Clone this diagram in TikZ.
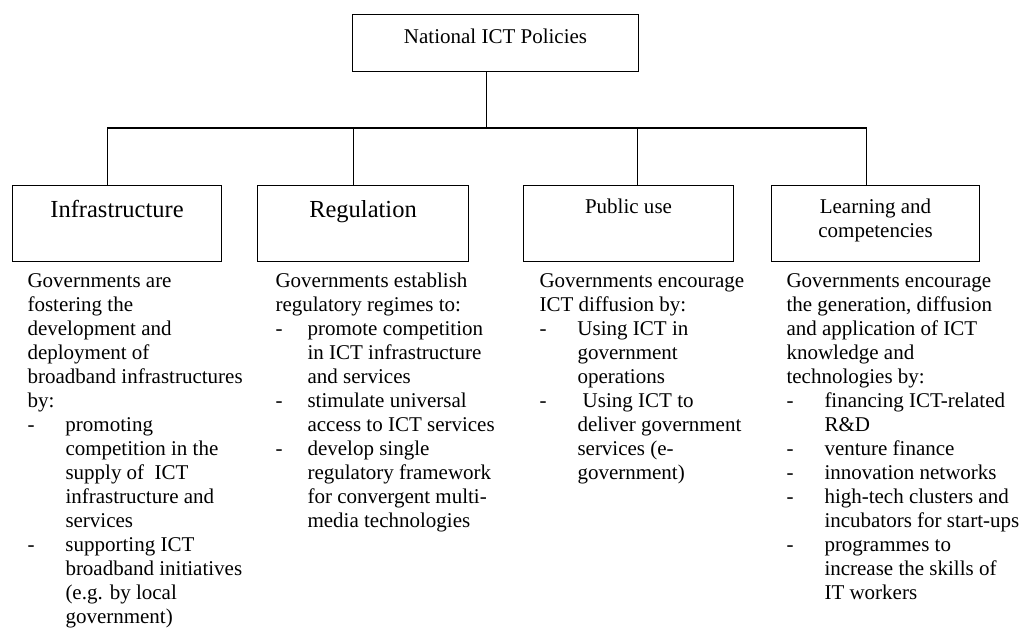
\documentclass[tikz,border=0pt]{standalone}
\usepackage{fontspec}
\setmainfont{Liberation Serif}
% one drawing unit
\newlength\pxu
\setlength\pxu{0.5714pt}
% hanging indent of the dashed list items
\newlength\tabind
\newcommand\dashitem[1]{\makebox[\tabind][l]{-}#1}
\newcommand\contline[1]{\hspace*{\tabind}#1}
\begin{document}
\begin{tikzpicture}[x=\pxu, y=-\pxu, line width=0.6pt,
  box/.style={draw, inner sep=0pt, anchor=north west},
  boxtext/.style={inner sep=0pt, anchor=base},
  desc/.style={inner sep=0pt, anchor=base west, font=\fontsize{12}{13.75}\selectfont},
  normal/.style={font=\fontsize{12}{13.75}\selectfont},
  large/.style={font=\fontsize{14}{16}\selectfont}]
\useasboundingbox (0,0) rectangle (1020,628);

% boxes
\node[box, minimum width=286\pxu, minimum height=57\pxu] (top)   at (352,14)  {};
\node[box, minimum width=209\pxu, minimum height=76\pxu] (infra) at (12,185)  {};
\node[box, minimum width=211\pxu, minimum height=76\pxu] (reg)   at (257,185) {};
\node[box, minimum width=210\pxu, minimum height=76\pxu] (pub)   at (523,185) {};
\node[box, minimum width=208\pxu, minimum height=76\pxu] (learn) at (771,185) {};

% box titles
\node[boxtext, normal] (topT)   at ([yshift=-29\pxu]top.north)   {National ICT Policies};
\node[boxtext, large]  (infraT) at ([yshift=-32\pxu]infra.north) {Infrastructure};
\node[boxtext, large]  (regT)   at ([yshift=-32\pxu]reg.north)   {Regulation};
\node[boxtext, normal] (pubT)   at ([yshift=-28\pxu]pub.north)   {Public use};
\node[boxtext, normal] (learnT) at ([yshift=-28\pxu]learn.north)
  {\begin{tabular}[t]{@{}c@{}}Learning and\\competencies\end{tabular}};

% connectors
\coordinate (bus) at (0,128);
\coordinate (topS)   at ([xshift=-9\pxu]top.south);
\coordinate (infraN) at ([xshift=-9.5\pxu]infra.north);
\coordinate (regN)   at ([xshift=-9.5\pxu]reg.north);
\coordinate (pubN)   at ([xshift=9\pxu]pub.north);
\coordinate (learnN) at ([xshift=-9\pxu]learn.north);
\draw (topS) -- (topS |- bus);
\draw (infraN) -- (infraN |- bus) -- (learnN |- bus) -- (learnN);
\draw (regN |- bus) -- (regN);
\draw (pubN |- bus) -- (pubN);

% descriptions
\setlength\tabind{21.7pt}
\node[desc] (infraD) at (27,287) {\begin{tabular}[t]{@{}l@{}}
Governments are\\
fostering the\\
development and\\
deployment of\\
broadband infrastructures\\
by:\\
\dashitem{promoting}\\
\contline{competition in the}\\
\contline{supply of \ ICT}\\
\contline{infrastructure and}\\
\contline{services}\\
\dashitem{supporting ICT}\\
\contline{broadband initiatives}\\
\contline{(e.g. by local}\\
\contline{government)}
\end{tabular}};

\node[desc] (regD) at (275,287) {\setlength\tabind{18.3pt}\begin{tabular}[t]{@{}l@{}}
Governments establish\\
regulatory regimes to:\\
\dashitem{promote competition}\\
\contline{in ICT infrastructure}\\
\contline{and services}\\
\dashitem{stimulate universal}\\
\contline{access to ICT services}\\
\dashitem{develop single}\\
\contline{regulatory framework}\\
\contline{for convergent multi-}\\
\contline{media technologies}
\end{tabular}};

\node[desc] (pubD) at (539,287) {\begin{tabular}[t]{@{}l@{}}
Governments encourage\\
ICT diffusion by:\\
\dashitem{Using ICT in}\\
\contline{government}\\
\contline{operations}\\
\dashitem{\ Using ICT to}\\
\contline{deliver government}\\
\contline{services (e-}\\
\contline{government)}
\end{tabular}};

\node[desc] (learnD) at (786,287) {\begin{tabular}[t]{@{}l@{}}
Governments encourage\\
the generation, diffusion\\
and application of ICT\\
knowledge and\\
technologies by:\\
\dashitem{financing ICT-related}\\
\contline{R\&D}\\
\dashitem{venture finance}\\
\dashitem{innovation networks}\\
\dashitem{high-tech clusters and}\\
\contline{incubators for start-ups}\\
\dashitem{programmes to}\\
\contline{increase the skills of}\\
\contline{IT workers}
\end{tabular}};
\end{tikzpicture}
\end{document}
